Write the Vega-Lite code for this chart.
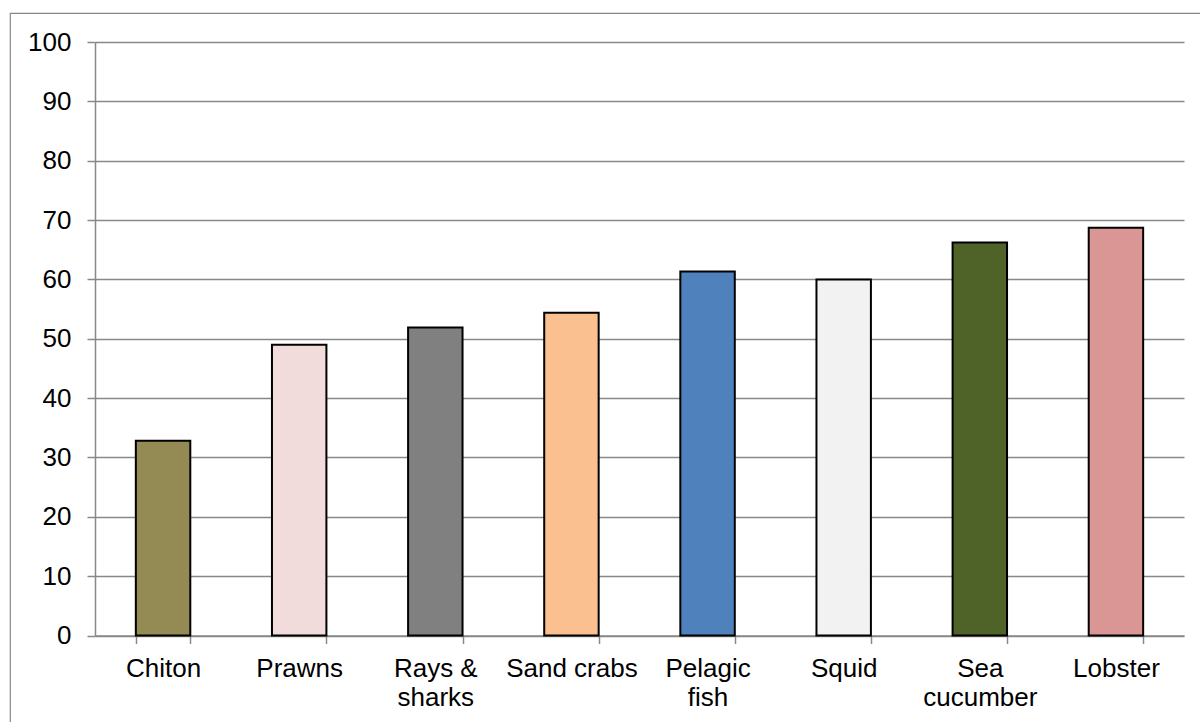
{
  "$schema": "https://vega.github.io/schema/vega-lite/v6.json",
  "autosize": "none",
  "width": 1192,
  "height": 711,
  "padding": {"left": 10, "top": 13, "right": 0, "bottom": 0},
  "background": "white",
  "config": {
    "view": {"stroke": "#888888", "strokeWidth": 1.2},
    "font": "Liberation Sans"
  },
  "data": {
    "values": [
      {"species": "Chiton", "value": 32.8},
      {"species": "Prawns", "value": 49.0},
      {"species": "Rays & sharks", "value": 51.9},
      {"species": "Sand crabs", "value": 54.4},
      {"species": "Pelagic fish", "value": 61.35},
      {"species": "Squid", "value": 60.0},
      {"species": "Sea cucumber", "value": 66.2},
      {"species": "Lobster", "value": 68.7}
    ]
  },
  "mark": {"type": "bar", "stroke": "black", "strokeWidth": 2, "cornerRadius": 0},
  "encoding": {
    "x": {
      "field": "species",
      "type": "nominal",
      "sort": null,
      "scale": {"range": [85, 1174], "paddingInner": 0.6, "paddingOuter": 0.3},
      "axis": {
        "title": null,
        "orient": "bottom",
        "offset": -88.5,
        "tickBand": "extent",
        "labelAngle": 0,
        "labelFontSize": 26,
        "labelColor": "black",
        "labelLineHeight": 29,
        "labelPadding": 12,
        "labelLimit": 0,
        "tickSize": 8,
        "tickColor": "#888888",
        "tickWidth": 1.5,
        "domainColor": "#888888",
        "domainWidth": 1.5,
        "grid": false,
        "labelExpr": "datum.label == 'Rays & sharks' ? ['Rays &', 'sharks'] : datum.label == 'Pelagic fish' ? ['Pelagic', 'fish'] : datum.label == 'Sea cucumber' ? ['Sea', 'cucumber'] : datum.label"
      }
    },
    "y": {
      "field": "value",
      "type": "quantitative",
      "scale": {"domain": [0, 100], "range": [622.5, 29], "nice": false, "zero": true},
      "axis": {
        "title": null,
        "orient": "left",
        "offset": -85,
        "values": [0, 10, 20, 30, 40, 50, 60, 70, 80, 90, 100],
        "labelFontSize": 26,
        "labelColor": "black",
        "labelPadding": 16,
        "tickSize": 8,
        "tickColor": "#888888",
        "tickWidth": 1.5,
        "domainColor": "#888888",
        "domainWidth": 1.5,
        "grid": true,
        "gridColor": "#888888",
        "gridWidth": 1.5
      }
    },
    "color": {
      "field": "species",
      "type": "nominal",
      "sort": null,
      "legend": null,
      "scale": {
        "domain": ["Chiton", "Prawns", "Rays & sharks", "Sand crabs", "Pelagic fish", "Squid", "Sea cucumber", "Lobster"],
        "range": ["#948A54", "#F2DCDB", "#808080", "#FAC090", "#4F81BD", "#F2F2F2", "#4F6228", "#D99694"]
      }
    }
  }
}
